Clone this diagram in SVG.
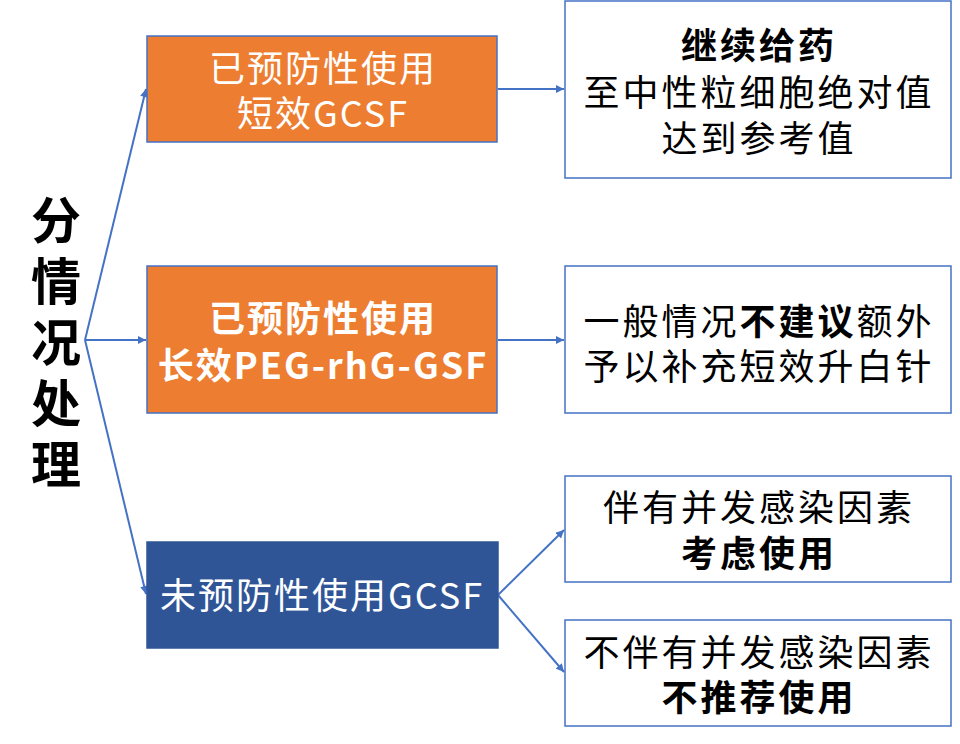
<svg xmlns="http://www.w3.org/2000/svg" width="960" height="744" viewBox="0 0 960 744">
<defs>
<marker id="ah" viewBox="0 0 10 10" refX="10" refY="5" markerWidth="9" markerHeight="8" markerUnits="userSpaceOnUse" orient="auto">
<path d="M0,0 L10,5 L0,10 z" fill="#4472C4"/>
</marker>
<style>
.t{font-family:"Noto Sans CJK SC","Noto Sans",sans-serif;text-anchor:middle}
.w{fill:#ffffff;font-size:36px;letter-spacing:2px}
.k{fill:#000000;font-size:36px;letter-spacing:3px}
.b{font-weight:bold}
.or{fill:#ED7D31;stroke:#4472C4;stroke-width:1.5}
.bl{fill:#2F5597;stroke:#2F5597;stroke-width:1.5}
.wh{fill:#ffffff;stroke:#4472C4;stroke-width:1.5}
.c{stroke:#4472C4;stroke-width:2;fill:none;marker-end:url(#ah)}
</style>
</defs>
<rect width="960" height="744" fill="#ffffff"/>
<g id="title">
<text font-family="Noto Sans CJK SC, sans-serif" font-size="50" font-weight="bold" fill="#000" x="56" y="195" writing-mode="tb" letter-spacing="11">分情况处理</text>
</g>
<g id="connectors">
<line class="c" x1="85" y1="340" x2="146" y2="89"/>
<line class="c" x1="85" y1="340" x2="146" y2="340"/>
<line class="c" x1="85" y1="340" x2="146" y2="594"/>
<line class="c" x1="498" y1="89" x2="564" y2="89"/>
<line class="c" x1="498" y1="340" x2="564" y2="340"/>
<line class="c" x1="498" y1="595" x2="564" y2="530"/>
<line class="c" x1="498" y1="595" x2="564" y2="672"/>
</g>
<g id="n1">
<rect class="or" x="147" y="36" width="350" height="106"/>
<text class="t w"><tspan x="323" y="82">已预防性使用</tspan><tspan x="323" y="127">短效GCSF</tspan></text>
</g>
<g id="n2">
<rect class="or" x="147" y="266" width="350" height="147"/>
<text class="t w b"><tspan x="323" y="332">已预防性使用</tspan><tspan x="323" y="379">长效PEG-rhG-GSF</tspan></text>
</g>
<g id="n3">
<rect class="bl" x="147" y="542" width="351" height="106"/>
<text class="t w" x="322" y="609">未预防性使用GCSF</text>
</g>
<g id="r1">
<rect class="wh" x="565" y="1" width="386" height="177"/>
<text class="t k"><tspan class="b" x="759" y="59">继续给药</tspan><tspan x="759" y="106">至中性粒细胞绝对值</tspan><tspan x="759" y="152">达到参考值</tspan></text>
</g>
<g id="r2">
<rect class="wh" x="565" y="266" width="386" height="147"/>
<text class="t k"><tspan x="759" y="335">一般情况</tspan><tspan class="b">不建议</tspan><tspan>额外</tspan><tspan x="759" y="380">予以补充短效升白针</tspan></text>
</g>
<g id="r3">
<rect class="wh" x="565" y="476" width="386" height="106"/>
<text class="t k"><tspan x="759" y="521">伴有并发感染因素</tspan><tspan class="b" x="759" y="567">考虑使用</tspan></text>
</g>
<g id="r4">
<rect class="wh" x="565" y="620" width="386" height="106"/>
<text class="t k"><tspan x="759" y="666">不伴有并发感染因素</tspan><tspan class="b" x="759" y="711">不推荐使用</tspan></text>
</g>
</svg>
